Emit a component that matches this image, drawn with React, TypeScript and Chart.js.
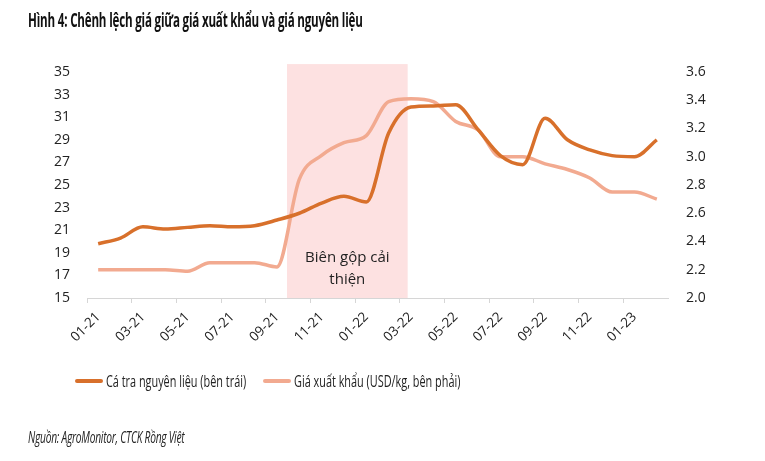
import React, { useEffect, useRef } from "react";
import { Chart, registerables } from "chart.js";

Chart.register(...registerables);

const months: string[] = [
  "01-21", "02-21", "03-21", "04-21", "05-21", "06-21", "07-21", "08-21", "09-21", "10-21", "11-21", "12-21",
  "01-22", "02-22", "03-22", "04-22", "05-22", "06-22", "07-22", "08-22", "09-22", "10-22", "11-22", "12-22",
  "01-23", "02-23",
];

// Cá tra nguyên liệu (left axis, VND thousand/kg)
const rawFish: number[] = [
  19.8, 20.3, 21.3, 21.1, 21.25, 21.4, 21.3, 21.4, 21.9, 22.5, 23.4, 24.0,
  23.5, 29.6, 31.9, 32.0, 32.1, 29.9, 27.6, 26.8, 30.9, 29.0, 28.1, 27.6,
  27.5, 29.0,
];

// Giá xuất khẩu (right axis, USD/kg)
const exportPrice: number[] = [
  2.2, 2.2, 2.2, 2.2, 2.19, 2.25, 2.25, 2.25, 2.22, 2.84, 3.01, 3.1,
  3.15, 3.39, 3.41, 3.39, 3.25, 3.19, 3.0, 3.0, 2.95, 2.91, 2.85, 2.75,
  2.75, 2.7,
];

const leftTicks = { min: 15, max: 35, step: 2 };
const rightTicks = { min: 2.0, max: 3.6, step: 0.2 };

// shaded "improved margin" period, in category index units
const shadeRange: number[] = [8.45, 13.85];
const shadeLabel: string[] = ["Biên gộp cải", "thiện"];

const DARK = "#d8702b";
const LIGHT = "#f2aa90";
const FONT = "'Open Sans', 'Noto Sans', sans-serif";

const shadePlugin = {
  id: "shade",
  beforeDatasetsDraw(chart: any) {
    const { ctx, chartArea } = chart;
    const x = chart.scales.x;
    const y = chart.scales.yL;
    const x1 = x.getPixelForValue(shadeRange[0]);
    const x2 = x.getPixelForValue(shadeRange[1]);
    const top = y.getPixelForValue(leftTicks.max + 0.7);
    ctx.save();
    ctx.fillStyle = "#fde1e1";
    ctx.fillRect(x1, top, x2 - x1, chartArea.bottom - top);
    ctx.fillStyle = "#222";
    ctx.font = `15px ${FONT}`;
    ctx.textAlign = "center";
    ctx.textBaseline = "middle";
    const cx = (x1 + x2) / 2;
    ctx.fillText(shadeLabel[0], cx, y.getPixelForValue(18.55));
    ctx.fillText(shadeLabel[1], cx, y.getPixelForValue(16.65));
    ctx.restore();
  },
};

export default function App() {
  const ref = useRef<HTMLCanvasElement | null>(null);

  useEffect(() => {
    if (!ref.current) return;
    const chart = new Chart(ref.current, {
      type: "line",
      data: {
        labels: months,
        datasets: [
          {
            label: "Cá tra nguyên liệu (bên trái)",
            data: rawFish,
            yAxisID: "yL",
            borderColor: DARK,
            borderWidth: 3.5,
            pointRadius: 0,
            tension: 0.4,
            cubicInterpolationMode: "monotone",
            order: 1,
          },
          {
            label: "Giá xuất khẩu (USD/kg, bên phải)",
            data: exportPrice,
            yAxisID: "yR",
            borderColor: LIGHT,
            borderWidth: 3.5,
            pointRadius: 0,
            tension: 0.4,
            cubicInterpolationMode: "monotone",
            order: 2,
          },
        ],
      },
      options: {
        animation: false,
        responsive: false,
        maintainAspectRatio: false,
        layout: { padding: { top: 72, left: 0, right: 0, bottom: 0 } },
        plugins: { legend: { display: false }, tooltip: { enabled: false } },
        scales: {
          x: {
            type: "category",
            offset: true,
            afterFit(s: any) {
              s.height = 163;
            },
            grid: {
              offset: true,
              drawOnChartArea: false,
              drawTicks: true,
              tickLength: 5,
              color: (c: any) => (c.index % 2 === 0 ? "#d6d6d6" : "rgba(0,0,0,0)"),
            },
            border: { display: true, color: "#d6d6d6", width: 1 },
            ticks: {
              autoSkip: false,
              maxRotation: 45,
              minRotation: 45,
              padding: 6,
              color: "#222",
              font: { family: FONT, size: 13.5 },
              callback: (_v: any, i: number) => (i % 2 === 0 ? months[i] : ""),
            },
          },
          yL: {
            type: "linear",
            position: "left",
            min: leftTicks.min,
            max: leftTicks.max,
            afterFit(s: any) {
              s.width = 87;
            },
            grid: { display: false, drawTicks: false },
            border: { display: false },
            ticks: {
              stepSize: leftTicks.step,
              padding: 17,
              color: "#222",
              font: { family: FONT, size: 14 },
            },
          },
          yR: {
            type: "linear",
            position: "right",
            min: rightTicks.min,
            max: rightTicks.max,
            afterFit(s: any) {
              s.width = 97;
            },
            grid: { display: false, drawTicks: false },
            border: { display: false },
            ticks: {
              stepSize: rightTicks.step,
              padding: 18,
              color: "#222",
              font: { family: FONT, size: 14 },
              callback: (v: any) => Number(v).toFixed(1),
            },
          },
        },
      },
      plugins: [shadePlugin],
    });
    return () => chart.destroy();
  }, []);

  const legendItem = (color: string, text: string, left: number) => (
    <div style={{ position: "absolute", left, top: 371, display: "flex", alignItems: "center", height: 20 }}>
      <div style={{ width: 28, height: 4, background: color, borderRadius: 2, marginRight: 3 }} />
      <span style={{ fontFamily: FONT, fontSize: 16, color: "#222", whiteSpace: "nowrap", display: "inline-block", transform: "scaleX(0.68)", transformOrigin: "left center" }}>{text}</span>
    </div>
  );

  return (
    <div style={{ position: "absolute", left: 0, top: 0, width: 765, height: 461, background: "#fff", overflow: "hidden" }}>
      <canvas ref={ref} width={765} height={461} style={{ position: "absolute", left: 0, top: 0 }} />
      <div style={{ position: "absolute", left: 28, top: 7, fontFamily: FONT, fontWeight: 700, fontSize: 19, color: "#111", whiteSpace: "nowrap", transform: "scaleX(0.61)", transformOrigin: "left top", letterSpacing: -0.3 }}>
        Hình 4: Chênh lệch giá giữa giá xuất khẩu và giá nguyên liệu
      </div>
      {legendItem(DARK, "Cá tra nguyên liệu (bên trái)", 75)}
      {legendItem(LIGHT, "Giá xuất khẩu (USD/kg, bên phải)", 263)}
      <div style={{ position: "absolute", left: 28, top: 426, fontFamily: FONT, fontStyle: "italic", fontSize: 16, color: "#222", whiteSpace: "nowrap", transform: "scaleX(0.64)", transformOrigin: "left top", letterSpacing: -0.4 }}>
        Nguồn: AgroMonitor, CTCK Rồng Việt
      </div>
    </div>
  );
}
